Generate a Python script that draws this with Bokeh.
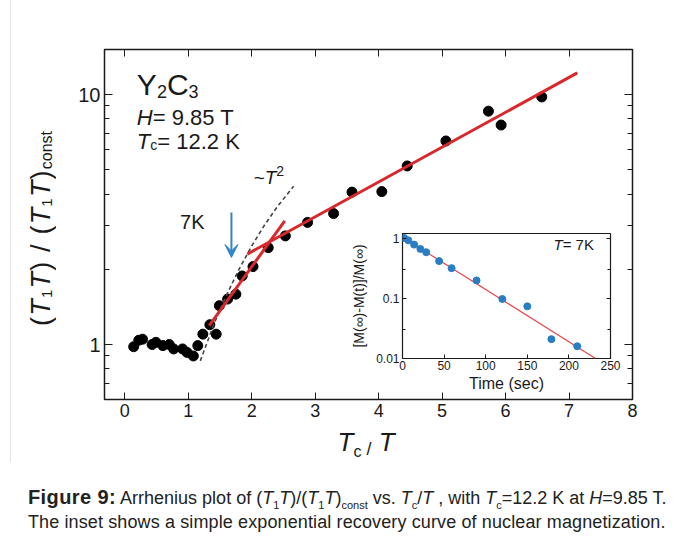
import math
from bokeh.plotting import figure
from bokeh.models import (Label, Arrow, VeeHead, FixedTicker, LinearAxis, LogAxis,
                          CustomJSTickFormatter, Div, Range1d)
from bokeh.layouts import column
from bokeh.embed import file_html
from bokeh.resources import INLINE

# ---------------- data ----------------
tc_over_t = [0.14, 0.22, 0.28, 0.43, 0.49, 0.60, 0.70, 0.77, 0.91, 0.98, 1.08, 1.15,
             1.23, 1.34, 1.44, 1.49, 1.62, 1.75, 1.85, 2.02, 2.26, 2.53, 2.88, 3.29,
             3.58, 4.05, 4.45, 5.06, 5.73, 5.93, 6.57]
t1t_ratio = [0.98, 1.04, 1.05, 1.00, 1.02, 0.99, 1.00, 0.96, 0.96, 0.93, 0.90, 0.99,
             1.10, 1.20, 1.10, 1.43, 1.52, 1.59, 1.88, 2.05, 2.44, 2.72, 3.08, 3.34,
             4.07, 4.09, 5.18, 6.52, 8.58, 7.55, 9.78]

fast_fit_x = [1.33, 2.52]
fast_fit_y = [1.19, 3.12]
slow_fit_x = [1.93, 7.13]
slow_fit_y = [2.30, 12.2]
t2_curve_x = [1.19, 1.40, 1.60, 1.80, 2.00, 2.20, 2.40, 2.66]
t2_curve_y = [0.86, 1.20, 1.57, 2.00, 2.48, 3.00, 3.55, 4.30]
arrow_x = 1.68
arrow_y = [3.37, 2.23]

main_x_ticks = [0, 1, 2, 3, 4, 5, 6, 7, 8]
main_y_ticks = [1, 10]
main_y_minor = [0.7, 0.8, 0.9, 2, 3, 4, 5, 6, 7, 8, 9]
main_y_labels = {1: "1", 10: "10"}

recovery_time = [2, 7, 14, 21.5, 28.5, 44, 59, 89, 120, 150, 179, 210]
recovery_mag = [1.02, 0.93, 0.79, 0.67, 0.59, 0.42, 0.32, 0.20, 0.098, 0.074, 0.021, 0.016]
recovery_fit_t = [0, 232]
recovery_fit_m = [1.05, 0.01]
inset_x_ticks = [0, 50, 100, 150, 200, 250]
inset_y_ticks = [0.01, 0.1, 1]
inset_y_minor = [0.03, 0.3]
inset_y_labels = {0.01: "0.01", 0.1: "0.1", 1: "1"}

# ---------------- style ----------------
FONT = "Liberation Sans"
TXT = "#1a1a1a"
RED = "#d8282b"
BLUE = "#2f86c9"
DOT_BLUE = "#2a7dc2"
FIT_RED = "#e6474a"

AW = {' ': 0.278, '(': 0.333, ')': 0.333, '/': 0.278, '=': 0.584, '.': 0.278, '~': 0.584,
      '[': 0.278, ']': 0.278, '-': 0.333, 'T': 0.611, 'H': 0.722, 'K': 0.667, 'Y': 0.667,
      'C': 0.722, 'M': 0.833, 'c': 0.5, 'o': 0.556, 'n': 0.556, 's': 0.5, 't': 0.278}


def tw(s, size):
    return sum(AW.get(ch, 0.556) for ch in s) * size


def seq(fig, x, y, pieces, dx=0.0, dy=0.0):
    off = 0.0
    for text, size, style, shift in pieces:
        fig.add_layout(Label(x=x, y=y, x_offset=dx + off, y_offset=dy - shift,
                             text=text, text_font=FONT, text_font_size=f"{size}px",
                             text_font_style=style, text_color=TXT, text_align="left",
                             text_baseline="alphabetic"))
        off += tw(text, size)


def style_axis(ax, size):
    ax.axis_line_color = None
    ax.major_tick_line_color = TXT
    ax.minor_tick_line_color = TXT
    ax.major_tick_out = 0
    ax.minor_tick_out = 0
    ax.major_label_text_font = FONT
    ax.major_label_text_font_size = f"{size}px"
    ax.major_label_text_color = TXT


# ---------------- main figure ----------------
p = figure(width=683, height=470, x_range=Range1d(-0.32, 8), y_range=Range1d(0.6026, 15.14),
           y_axis_type="log", output_backend="svg", toolbar_location=None,
           min_border_left=104, min_border_right=51, min_border_top=49, min_border_bottom=71)
p.outline_line_color = TXT
p.outline_line_width = 1.5
p.xgrid.visible = False
p.ygrid.visible = False
p.background_fill_color = "white"
p.border_fill_color = "white"

p.xaxis.ticker = FixedTicker(ticks=main_x_ticks)
style_axis(p.xaxis[0], 18)
p.xaxis.major_tick_in = 7
p.xaxis.major_label_standoff = 4

p.yaxis.ticker = FixedTicker(ticks=main_y_ticks, minor_ticks=main_y_minor)
style_axis(p.yaxis[0], 20)
p.yaxis.major_label_overrides = main_y_labels
p.yaxis.major_tick_in = 8
p.yaxis.minor_tick_in = 5
p.yaxis.major_label_standoff = 4

right_ax = LogAxis(ticker=FixedTicker(ticks=main_y_ticks, minor_ticks=main_y_minor),
                   formatter=CustomJSTickFormatter(code="return ''"))
style_axis(right_ax, 10)
right_ax.major_tick_in = 8
right_ax.minor_tick_in = 5
p.add_layout(right_ax, "right")

top_ax = LinearAxis(ticker=FixedTicker(ticks=main_x_ticks),
                    formatter=CustomJSTickFormatter(code="return ''"))
style_axis(top_ax, 10)
top_ax.major_tick_in = 7
p.add_layout(top_ax, "above")

p.scatter(tc_over_t, t1t_ratio, size=10, color="black")
p.line(t2_curve_x, t2_curve_y, color="#444444", line_width=1.6, line_dash="4 3")
p.line(fast_fit_x, fast_fit_y, color=RED, line_width=3)
p.line(slow_fit_x, slow_fit_y, color=RED, line_width=3)
p.add_layout(Arrow(x_start=arrow_x, y_start=arrow_y[0], x_end=arrow_x, y_end=arrow_y[1],
                   line_color=BLUE, line_width=2,
                   end=VeeHead(size=13, fill_color=BLUE, line_color=BLUE)))

# texts inside the frame
UP = 10
seq(p, 0.19, 10.0, [("Y", 30, "normal", 0), ("2", 18, "normal", 7),
                    ("C", 30, "normal", 0), ("3", 18, "normal", 7)], dy=UP)
seq(p, 0.19, 7.4, [("H", 22, "italic", 0), ("= 9.85 T", 22, "normal", 0)], dy=UP)
seq(p, 0.19, 5.94, [("T", 22, "italic", 0), ("c", 14, "normal", 4), ("= 12.2 K", 22, "normal", 0)], dy=UP)
seq(p, 0.87, 2.81, [("7K", 20, "normal", 0)], dy=UP)
seq(p, 2.03, 4.24, [("~", 19, "normal", 0), ("T", 19, "italic", 0), (" 2", 14, "normal", -7)], dy=UP)

# ---------------- inset ----------------
ins = figure(width=363, height=175, x_range=Range1d(0, 250), y_range=Range1d(0.01, 1.21),
             y_axis_type="log", output_backend="svg", toolbar_location=None,
             min_border_left=104, min_border_right=51, min_border_top=10, min_border_bottom=40,
             margin=(-247, 0, 0, 298))
ins.border_fill_color = None
ins.background_fill_color = "white"
ins.outline_line_color = TXT
ins.outline_line_width = 1.2
ins.xgrid.visible = False
ins.ygrid.visible = False

ins.xaxis.ticker = FixedTicker(ticks=inset_x_ticks)
style_axis(ins.xaxis[0], 12)
ins.xaxis.major_tick_in = 4
ins.xaxis.major_label_standoff = 2
ins.xaxis.axis_label = "Time (sec)"
ins.xaxis.axis_label_text_font = FONT
ins.xaxis.axis_label_text_font_style = "normal"
ins.xaxis.axis_label_text_font_size = "16px"
ins.xaxis.axis_label_text_color = TXT
ins.xaxis.axis_label_standoff = 2

ins.yaxis.ticker = FixedTicker(ticks=inset_y_ticks, minor_ticks=inset_y_minor)
style_axis(ins.yaxis[0], 12)
ins.yaxis.major_label_overrides = inset_y_labels
ins.yaxis.major_tick_in = 4
ins.yaxis.minor_tick_in = 3
ins.yaxis.major_label_standoff = 3
ins.yaxis.axis_label = "[M(\u221e)-M(t)]/M(\u221e)"
ins.yaxis.axis_label_text_font = FONT
ins.yaxis.axis_label_text_font_style = "normal"
ins.yaxis.axis_label_text_font_size = "14px"
ins.yaxis.axis_label_text_color = TXT
ins.yaxis.axis_label_standoff = 6

ins_right = LogAxis(ticker=FixedTicker(ticks=inset_y_ticks, minor_ticks=inset_y_minor),
                    formatter=CustomJSTickFormatter(code="return ''"))
style_axis(ins_right, 8)
ins_right.major_tick_in = 4
ins_right.minor_tick_in = 3
ins.add_layout(ins_right, "right")

ins.line(recovery_fit_t, recovery_fit_m, color=FIT_RED, line_width=1.2)
ins.scatter(recovery_time, recovery_mag, size=7, color=DOT_BLUE)
seq(ins, 181.5, 0.55, [("T", 15, "italic", 0), (" = 7K", 15, "normal", 0)], dy=UP)

# ---------------- axis titles (HTML text placed over the figure) ----------------
ylab_html = (
    '<div style="writing-mode:vertical-rl; transform:rotate(180deg); width:40px; height:224px; '
    'line-height:40px; text-align:center; white-space:nowrap; font-family:\'Liberation Sans\'; '
    'font-size:27px; letter-spacing:1.2px; color:#1a1a1a;">'
    '(<i>T</i><sub style="font-size:15px;line-height:0">1</sub><i>T</i>) / '
    '(<i>T</i><sub style="font-size:15px;line-height:0">1</sub><i>T</i>)'
    '<sub style="font-size:16px;line-height:0;letter-spacing:0">const</sub></div>'
)
ylab = Div(text=ylab_html, width=40, height=224, margin=(-282, 0, 0, 21))

xlab_html = (
    '<div style="width:140px; height:40px; line-height:40px; text-align:center; white-space:nowrap; '
    'font-family:\'Liberation Sans\'; font-size:26px; color:#1a1a1a;">'
    '<i>T</i><sub style="font-size:16px;line-height:0">c</sub>'
    '<span style="font-size:18px;vertical-align:-4px"> /</span> <i>T</i></div>'
)
xlab = Div(text=xlab_html, width=140, height=40, margin=(82, 0, 0, 296))

edge = Div(text='<div style="width:1px; height:462px; background:#e4e4e4;"></div>',
           width=1, height=462, margin=(-462, 0, 0, 10))

# ---------------- caption ----------------
SUB = '<sub style="font-size:11px;line-height:0">{}</sub>'
cap_html = (
    '<div style="padding:15px 0 0 28px; font-family:\'Liberation Sans\'; font-size:18px; '
    'line-height:24px; color:#222; white-space:nowrap;">'
    '<b style="font-size:20px;letter-spacing:0.4px">Figure 9:</b> Arrhenius plot of (<i>T</i>'
    + SUB.format("1") + '<i>T</i>)/(<i>T</i>' + SUB.format("1") + '<i>T</i>)' + SUB.format("const")
    + ' vs. <i>T</i>' + SUB.format("c") + '/<i>T</i> , with <i>T</i>' + SUB.format("c")
    + '=12.2 K at <i>H</i>=9.85 T.<br>'
    '<span style="letter-spacing:0.12px">The inset shows a simple exponential recovery curve of '
    'nuclear magnetization.</span></div>'
)
cap = Div(text=cap_html, width=683, height=69, margin=(8, 0, 0, 0))

layout = column(p, ins, ylab, xlab, edge, cap, spacing=0)
open("out.html", "w").write(file_html(layout, INLINE))
